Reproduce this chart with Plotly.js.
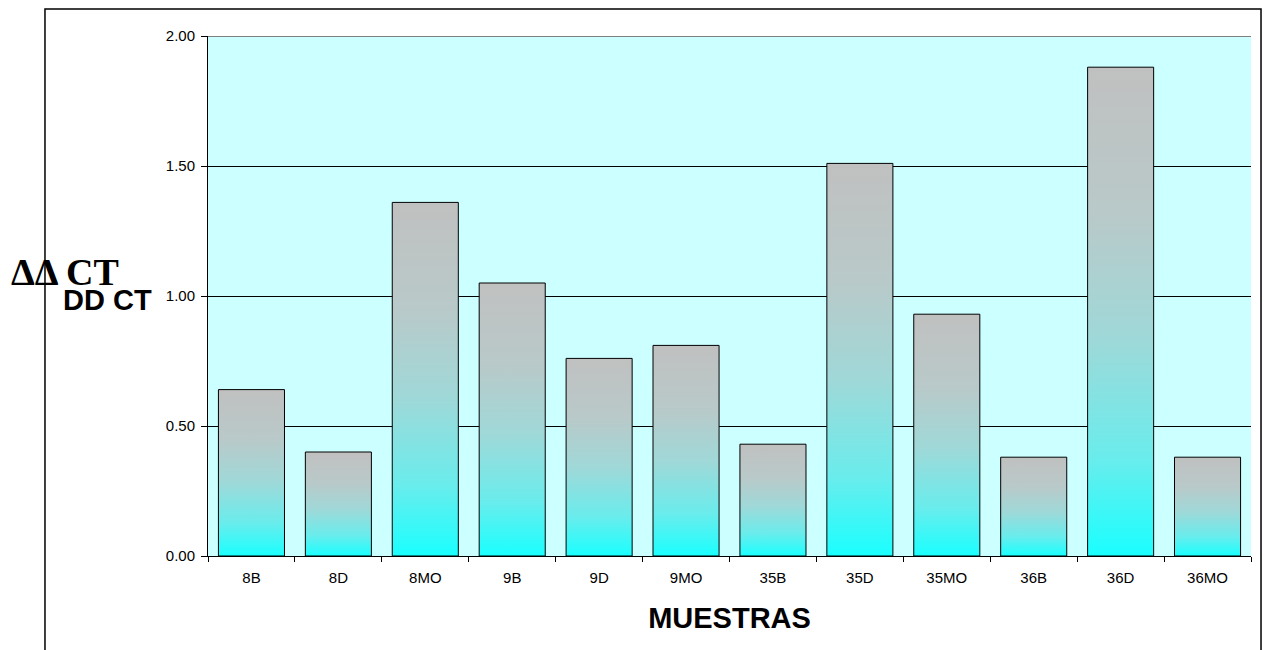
<!DOCTYPE html>
<html>
<head>
<meta charset="utf-8">
<script src="https://cdn.plot.ly/plotly-3.0.1.min.js"></script>
<style>
html,body{margin:0;padding:0;background:#fff;}
#chart{width:1265px;height:650px;}
</style>
</head>
<body>
<div id="chart"></div>
<script>
const categories = ["8B","8D","8MO","9B","9D","9MO","35B","35D","35MO","36B","36D","36MO"];
const values = [0.64,0.40,1.36,1.05,0.76,0.81,0.43,1.51,0.93,0.38,1.88,0.38];
const yTicks = [0,0.5,1,1.5,2];

const trace = {
  type: 'bar',
  x: categories,
  y: values,
  marker: {color: '#80e0e0', line: {color: '#000000', width: 1}},
  hoverinfo: 'x+y'
};

const layout = {
  width: 1265, height: 650,
  margin: {l: 208, r: 14, t: 36, b: 94},
  paper_bgcolor: '#ffffff',
  plot_bgcolor: '#ccffff',
  bargap: 0.24,
  showlegend: false,
  font: {family: 'Arial, "Liberation Sans", sans-serif', color: '#000', size: 15},
  xaxis: {
    type: 'category',
    tickson: 'boundaries',
    ticks: 'outside', ticklen: 5, tickcolor: '#000',
    ticklabelstandoff: 8,
    showline: true, linecolor: '#000', linewidth: 1,
    showgrid: false,
    tickfont: {size: 15, family: 'Arial, "Liberation Sans", sans-serif'},
    title: {text: '<b>MUESTRAS</b>', font: {size: 29, family: 'Arial, "Liberation Sans", sans-serif'}, standoff: 22}
  },
  yaxis: {
    range: [0, 2],
    tickvals: yTicks,
    tickformat: '.2f',
    ticks: 'outside', ticklen: 6, tickcolor: '#000',
    ticklabelstandoff: 3,
    showline: true, linecolor: '#000', linewidth: 1,
    showgrid: true, gridcolor: '#000', gridwidth: 1,
    zeroline: false,
    tickfont: {size: 15, family: 'Arial, "Liberation Sans", sans-serif'}
  },
  shapes: [
    {type: 'line', xref: 'paper', yref: 'y', x0: 0, x1: 1, y0: 2, y1: 2, line: {color: '#808080', width: 2}},
    {type: 'rect', xref: 'paper', yref: 'paper', x0: -0.1563, x1: 1.0096, y0: -0.3, y1: 1.0519, line: {color: '#000', width: 1.5}, layer: 'below'}
  ],
  annotations: [
    {text: '<b>ΔΔ CT</b>', xref: 'paper', yref: 'paper', x: 0, y: 0.546, xanchor: 'left', yanchor: 'middle', xshift: -199, showarrow: false,
     font: {family: '"Liberation Serif", "Times New Roman", serif', size: 38, color: '#000'}},
    {text: '<b>DD CT</b>', xref: 'paper', yref: 'paper', x: 0, y: 0.492, xanchor: 'left', yanchor: 'middle', xshift: -147, showarrow: false,
     font: {family: 'Arial, "Liberation Sans", sans-serif', size: 29, color: '#000'}}
  ]
};

function applyGradient(gd) {
  const svg = gd.querySelector('.main-svg');
  if (!svg) return;
  let defs = svg.querySelector('defs');
  if (!defs) { defs = document.createElementNS('http://www.w3.org/2000/svg','defs'); svg.insertBefore(defs, svg.firstChild); }
  if (!svg.querySelector('#barGrad')) {
    const g = document.createElementNS('http://www.w3.org/2000/svg','linearGradient');
    g.setAttribute('id','barGrad');
    g.setAttribute('x1','0'); g.setAttribute('y1','0'); g.setAttribute('x2','0'); g.setAttribute('y2','1');
    const stops = [[0,'#c0c0c0'],[0.3,'#b9c9c9'],[0.55,'#a0d8d8'],[0.8,'#6aecec'],[1,'#1affff']];
    stops.forEach(s => {
      const st = document.createElementNS('http://www.w3.org/2000/svg','stop');
      st.setAttribute('offset', s[0]); st.setAttribute('stop-color', s[1]);
      g.appendChild(st);
    });
    defs.appendChild(g);
  }
  gd.querySelectorAll('.bars .point path').forEach(p => { p.style.fill = 'url(#barGrad)'; });
}

const gd = document.getElementById('chart');
Plotly.newPlot(gd, [trace], layout, {displayModeBar: false, staticPlot: true}).then(() => {
  applyGradient(gd);
  gd.on('plotly_afterplot', () => applyGradient(gd));
});
</script>
</body>
</html>
